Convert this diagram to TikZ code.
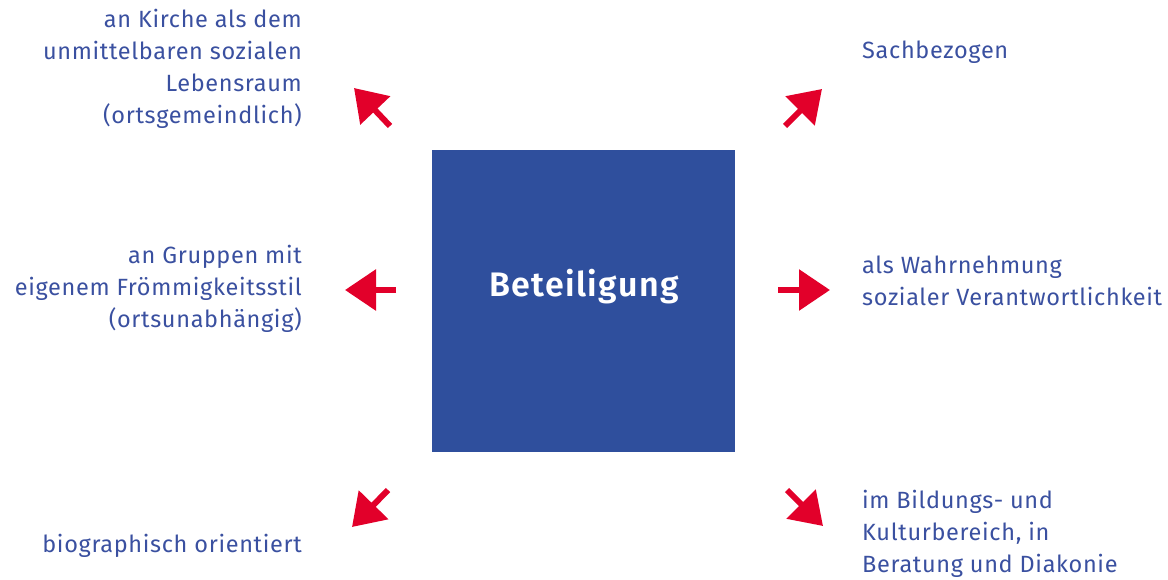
\documentclass[tikz,border=0pt]{standalone}
\usepackage{fontspec}
\setmainfont{Fira Sans}[LetterSpace=2.8]
\newfontfamily\titlefont{Fira Sans SemiBold}[LetterSpace=4]
\usetikzlibrary{arrows.meta}
\definecolor{boxblue}{HTML}{2F4F9D}
\definecolor{txtblue}{HTML}{3A50A0}
\definecolor{arrred}{HTML}{E2002A}
\tikzset{
  lbl/.style={text=txtblue, font=\fontsize{23.5}{32}\selectfont, inner sep=0pt},
  redarr/.style={draw=arrred, line width=6pt, -{Triangle[length=31pt,width=40pt]}},
}
\begin{document}
\begin{tikzpicture}[x=1pt,y=-1pt]
\useasboundingbox (0,0) rectangle (1168,580);
\node[fill=boxblue, minimum width=303pt, minimum height=302pt, inner sep=0pt] (box) at (583.5,301) {};
\node[text=white, font=\fontsize{34}{40}\titlefont, inner sep=0pt] (title) at (584,287) {Beteiligung};

\node[lbl, anchor=east, align=right] (tl) at (302,68.5) {an Kirche als dem\\unmittelbaren sozialen\\Lebensraum\\(ortsgemeindlich)};
\node[lbl, anchor=east, align=right] (ml) at (302,289) {an Gruppen mit\\eigenem Frömmigkeitsstil\\(ortsunabhängig)};
\node[lbl, anchor=east, align=right] (bl) at (302,546) {biographisch orientiert};
\node[lbl, anchor=west, align=left] (tr) at (862,52) {Sachbezogen};
\node[lbl, anchor=west, align=left] (mr) at (862,281) {als Wahrnehmung\\sozialer Verantwortlichkeit};
\node[lbl, anchor=west, align=left] (br) at (862,533.5) {im Bildungs- und\\Kulturbereich, in\\Beratung und Diakonie};

\coordinate (a1s) at (390,126); \coordinate (a1e) at (354,88);
\coordinate (a2s) at (396,290); \coordinate (a2e) at (345,290);
\coordinate (a3s) at (388,490); \coordinate (a3e) at (352,527);
\coordinate (a4s) at (785,126); \coordinate (a4e) at (822,89);
\coordinate (a5s) at (778,290); \coordinate (a5e) at (830,290);
\coordinate (a6s) at (787,490); \coordinate (a6e) at (823,526);
\foreach \i in {1,...,6} \draw[redarr] (a\i s) -- (a\i e);
\end{tikzpicture}
\end{document}
